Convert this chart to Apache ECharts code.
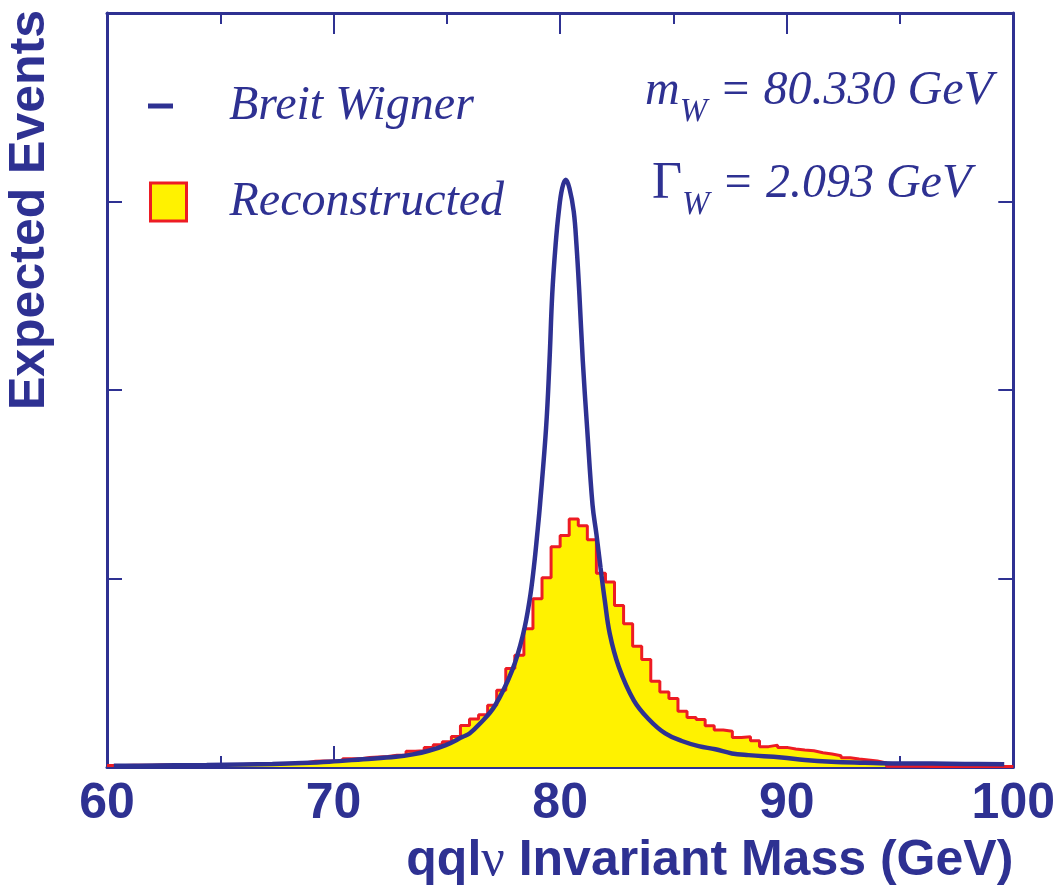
<!DOCTYPE html>
<html><head><meta charset="utf-8">
<script src="https://cdn.jsdelivr.net/npm/echarts@6/dist/echarts.min.js"></script>
<style>html,body{margin:0;padding:0;background:#fff}#c{width:1058px;height:890px}</style>
</head><body><div id="c"></div>
<script>
// ---- data ----
const xTickValues = [60, 70, 80, 90, 100];
const binLow = 60;      // first bin edge (GeV)
const binWidth = 0.4;   // bin width (GeV)
// Reconstructed histogram: expected events per 0.4 GeV bin, 60 -> 100 GeV (100 bins)
const recoCounts = [
  0.008,0.008,0.009,0.009,0.009,0.010,0.010,0.010,0.011,0.011,
  0.011,0.012,0.012,0.013,0.013,0.014,0.014,0.015,0.016,0.018,
  0.020,0.023,0.030,0.032,0.032,0.030,0.044,0.044,0.050,0.053,
  0.056,0.062,0.063,0.084,0.086,0.104,0.118,0.134,0.162,0.220,
  0.255,0.277,0.328,0.407,0.522,0.593,0.734,0.893,1.004,1.168,
  1.228,1.316,1.280,1.205,1.028,0.981,0.857,0.760,0.640,0.570,
  0.455,0.398,0.363,0.296,0.263,0.252,0.219,0.196,0.190,0.157,
  0.160,0.139,0.108,0.116,0.104,0.095,0.090,0.086,0.076,0.069,
  0.060,0.049,0.042,0.037,0.032,0.022,0.004,0.004,0.004,0.004,
  0.003,0.003,0.003,0.003,0.003,0.003,0.003,0.003,0.003,0.003
];
// Breit Wigner curve
const bwMass = [60.3,61.4,63.0,64.4,66.0,67.3,68.6,69.8,71.3,72.75,73.5,74.2,74.95,75.7,76.0,76.42,77.12,77.89,78.37,78.65,78.84,78.99,79.11,79.38,79.53,79.65,79.80,79.94,80.09,80.25,80.41,80.60,80.72,80.85,81.0,81.19,81.43,81.6,81.78,81.97,82.19,82.59,83.25,83.9,84.64,85.37,86.11,86.85,87.58,88.31,89.78,90.8,91.98,93.45,94.9,96.4,97.86,99.6];
const bwValue = [0.006,0.007,0.009,0.010,0.013,0.016,0.021,0.028,0.041,0.054,0.067,0.086,0.116,0.160,0.178,0.225,0.325,0.515,0.707,0.884,1.06,1.236,1.39,1.80,2.153,2.506,2.771,2.947,3.07,3.115,3.07,2.947,2.771,2.506,2.153,1.80,1.39,1.236,1.06,0.884,0.707,0.531,0.354,0.255,0.178,0.138,0.111,0.094,0.072,0.063,0.051,0.037,0.028,0.023,0.019,0.018,0.016,0.014];

// ---- styles ----
const BLUE = '#2E3192', RED = '#ED1C24', YELLOW = '#FFF200';
const SANS = 'Liberation Sans', SERIF = 'Liberation Serif';

const histData = recoCounts.map((v, i) => [binLow + i * binWidth, v]);
histData.push([binLow + recoCounts.length * binWidth, recoCounts[recoCounts.length - 1]]);
const bwData = bwMass.map((m, i) => [m, bwValue[i]]);

const chart = echarts.init(document.getElementById('c'), null, {renderer: 'canvas'});

function xAxisCommon(pos) {
  return {
    type: 'value', min: xTickValues[0], max: xTickValues[xTickValues.length - 1], interval: 10,
    position: pos,
    axisLine: {show: true, onZero: false, lineStyle: {color: BLUE, width: 3}},
    axisTick: {show: true, inside: true, length: 21, lineStyle: {color: BLUE, width: 2}},
    minorTick: {show: true, splitNumber: 2, length: 11, lineStyle: {color: BLUE, width: 2}},
    splitLine: {show: false}, minorSplitLine: {show: false}
  };
}
function yAxisCommon(pos) {
  return {
    type: 'value', min: 0, max: 4, interval: 1, position: pos,
    axisLine: {show: true, onZero: false, lineStyle: {color: BLUE, width: 3}},
    axisTick: {show: true, inside: true, length: 15, lineStyle: {color: BLUE, width: 2}},
    axisLabel: {show: false}, splitLine: {show: false}
  };
}

const bottomX = Object.assign(xAxisCommon('bottom'), {
  axisLabel: {show: true, color: BLUE, fontFamily: SANS, fontWeight: 'bold', fontSize: 50, margin: 12},
  name: 'qql{n|ν} Invariant Mass (GeV)',
  nameLocation: 'end', nameGap: 0,
  nameTextStyle: {
    color: BLUE, fontFamily: SANS, fontWeight: 'bold', fontSize: 50,
    align: 'right', verticalAlign: 'top', padding: [68, 0, 0, 0],
    rich: {n: {fontFamily: SERIF, fontWeight: 'normal', fontSize: 52, color: BLUE}}
  }
});
const topX = Object.assign(xAxisCommon('top'), {axisLabel: {show: false}});

const italic = {fontFamily: SERIF, fontStyle: 'italic', fontSize: 48, fill: BLUE, lineHeight: 48};
const subSty = {fontFamily: SERIF, fontStyle: 'italic', fontSize: 33, fill: BLUE, padding: [42, 0, 0, 0]};

chart.setOption({
  animation: false,
  backgroundColor: '#ffffff',
  grid: {left: 107, right: 43, top: 13, bottom: 123, containLabel: false},
  xAxis: [bottomX, topX],
  yAxis: [yAxisCommon('left'), yAxisCommon('right')],
  legend: [
    {
      selectedMode: false, left: 148, top: 82, itemWidth: 25, itemHeight: 5, padding: 0,
      data: [{name: 'Breit Wigner', icon: 'rect', itemStyle: {color: BLUE, borderWidth: 0}}],
      textStyle: {fontFamily: SERIF, fontStyle: 'italic', fontSize: 48, color: BLUE, padding: [0, 0, 0, 51]}
    },
    {
      selectedMode: false, left: 149, top: 178, itemWidth: 36, itemHeight: 38, padding: 0,
      data: [{name: 'Reconstructed', icon: 'rect', itemStyle: {color: YELLOW, borderColor: RED, borderWidth: 3}}],
      textStyle: {fontFamily: SERIF, fontStyle: 'italic', fontSize: 48, color: BLUE, padding: [0, 0, 0, 38]}
    }
  ],
  series: [
    {
      name: 'Reconstructed', type: 'line', step: 'end', xAxisIndex: 0, yAxisIndex: 0,
      data: histData, symbol: 'none', z: 2,
      lineStyle: {color: RED, width: 3},
      itemStyle: {color: YELLOW},
      areaStyle: {color: YELLOW, opacity: 1}
    },
    {
      name: 'Breit Wigner', type: 'line', xAxisIndex: 0, yAxisIndex: 0,
      data: bwData, symbol: 'none', smooth: 0.4, z: 3,
      lineStyle: {color: BLUE, width: 4.5},
      itemStyle: {color: BLUE}
    }
  ],
  graphic: [
    {
      type: 'text', x: 30, y: 210, rotation: Math.PI / 2,
      style: {text: 'Expected Events', fill: BLUE, fontFamily: SANS, fontWeight: 'bold', fontSize: 50,
              align: 'center', verticalAlign: 'middle'}
    },
    {
      type: 'text', x: 645, y: 54,
      style: {
        text: '{it|m}{sub|W}{it| = 80.330 GeV}', fill: BLUE, align: 'left', verticalAlign: 'top',
        rich: {it: italic, sub: subSty}
      }
    },
    {
      type: 'text', x: 652, y: 147,
      style: {
        text: '{g|Γ}{sub|W}{it| = 2.093 GeV}', fill: BLUE, align: 'left', verticalAlign: 'top',
        rich: {g: {fontFamily: SERIF, fontSize: 52, fill: BLUE, lineHeight: 48}, it: italic, sub: subSty}
      }
    }
  ]
});
</script>
</body></html>
